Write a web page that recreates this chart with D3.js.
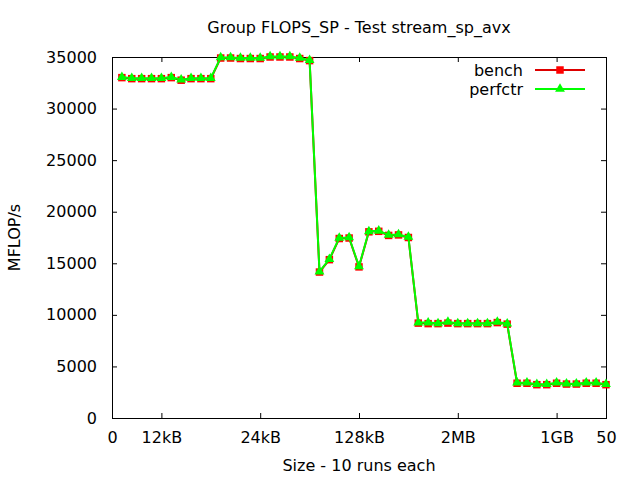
<!DOCTYPE html>
<html>
<head>
<meta charset="utf-8">
<script src="https://cdn.jsdelivr.net/npm/d3@7/dist/d3.min.js"></script>
<style>
  html, body { margin: 0; padding: 0; background: #fff; }
  svg { display: block; font-family: "DejaVu Sans", sans-serif; }
  text { fill: #000; }
</style>
</head>
<body>
<svg id="chart" width="640" height="480"></svg>
<script>
// ---- data ----
const runIndex = d3.range(1, 51);
const perfctrValues = [
  33050, 32950, 32950, 32950, 32950, 33050, 32800, 32950, 32950, 32950,
  34950, 34950, 34900, 34900, 34900, 35050, 35050, 35050, 34900, 34700,
  14200, 15400, 17450, 17500, 14700, 18100, 18150, 17750, 17800, 17550,
  9250, 9250, 9180, 9310, 9180, 9180, 9180, 9180, 9310, 9150,
  3420, 3420, 3270, 3270, 3420, 3330, 3330, 3420, 3420, 3270
];
const benchValues = [
  33000, 32900, 32900, 32900, 32900, 33000, 32750, 32900, 32900, 32900,
  34900, 34900, 34850, 34850, 34850, 35000, 35000, 35000, 34850, 34650,
  14150, 15350, 17400, 17450, 14650, 18050, 18100, 17700, 17750, 17500,
  9200, 9150, 9150, 9200, 9150, 9150, 9150, 9150, 9250, 9100,
  3370, 3370, 3230, 3230, 3370, 3290, 3290, 3370, 3370, 3230
];
const xTickValues = [0, 5, 15, 25, 35, 45, 50];
const xTickLabels = ["0", "12kB", "24kB", "128kB", "2MB", "1GB", "50"];
const yTickValues = [0, 5000, 10000, 15000, 20000, 25000, 30000, 35000];
const seriesNames = ["bench", "perfctr"];

// ---- layout ----
const pLeft = 112, pRight = 606, pTop = 57, pBottom = 418;
const svg = d3.select("#chart");
const x = d3.scaleLinear().domain([0, 50]).range([pLeft, pRight]);
const y = d3.scaleLinear().domain([0, 35000]).range([pBottom, pTop]);

// axes (inward ticks)
const fontSize = 16;
const gx = svg.append("g").attr("transform", `translate(0,${pBottom})`)
  .call(d3.axisBottom(x).tickValues(xTickValues)
    .tickFormat((d, i) => xTickLabels[i]).tickSize(-5).tickPadding(14));
const gy = svg.append("g").attr("transform", `translate(${pLeft},0)`)
  .call(d3.axisLeft(y).tickValues(yTickValues).tickFormat(d3.format("d"))
    .tickSize(-5).tickPadding(15));
const gxt = svg.append("g").attr("transform", `translate(0,${pTop})`)
  .call(d3.axisTop(x).tickValues(xTickValues).tickFormat("").tickSize(-5));
const gyr = svg.append("g").attr("transform", `translate(${pRight},0)`)
  .call(d3.axisRight(y).tickValues(yTickValues).tickFormat("").tickSize(-5));
[gx, gy, gxt, gyr].forEach(g => {
  g.select(".domain").remove();
  g.selectAll("line").attr("stroke", "#000").attr("stroke-width", 1);
  g.selectAll("text").attr("font-family", "DejaVu Sans, sans-serif")
    .attr("font-size", fontSize).attr("fill", "#000");
});

// border
svg.append("rect").attr("x", pLeft + 0.5).attr("y", pTop + 0.5)
  .attr("width", pRight - pLeft).attr("height", pBottom - pTop)
  .attr("fill", "none").attr("stroke", "#000").attr("stroke-width", 1);

// titles
svg.append("text").attr("x", (pLeft + pRight) / 2).attr("y", 33)
  .attr("text-anchor", "middle").attr("font-size", fontSize)
  .text("Group FLOPS_SP - Test stream_sp_avx");
svg.append("text").attr("x", (pLeft + pRight) / 2).attr("y", 471)
  .attr("text-anchor", "middle").attr("font-size", fontSize)
  .text("Size - 10 runs each");
svg.append("text").attr("transform", `translate(20,${(pTop + pBottom) / 2}) rotate(-90)`)
  .attr("text-anchor", "middle").attr("font-size", fontSize)
  .text("MFLOP/s");

// series
const line = d3.line().x((d, i) => x(runIndex[i])).y(d => y(d));
const square = d3.symbol().type(d3.symbolSquare).size(56);
const triangle = d3.symbol().type(d3.symbolTriangle).size(42);

const series = [
  { name: seriesNames[0], values: benchValues, line: "#dd0000", fill: "#ff0000", sym: square },
  { name: seriesNames[1], values: perfctrValues, line: "#00ff00", fill: "#00ff00", sym: triangle }
];

series.forEach(s => {
  svg.append("path").datum(s.values).attr("d", line)
    .attr("fill", "none").attr("stroke", s.line).attr("stroke-width", 2);
  svg.append("g").selectAll("path").data(s.values).join("path")
    .attr("transform", (d, i) => `translate(${x(runIndex[i])},${y(d)})`)
    .attr("d", s.sym()).attr("fill", s.fill);
});

// legend
series.forEach((s, i) => {
  const ly = 70 + i * 19;
  svg.append("text").attr("x", 523).attr("y", ly + 6)
    .attr("text-anchor", "end").attr("font-size", fontSize).text(s.name);
  svg.append("line").attr("x1", 535).attr("x2", 585).attr("y1", ly).attr("y2", ly)
    .attr("stroke", s.line).attr("stroke-width", 2);
  svg.append("path").attr("transform", `translate(560,${ly})`)
    .attr("d", s.sym()).attr("fill", s.fill);
});
</script>
</body>
</html>
